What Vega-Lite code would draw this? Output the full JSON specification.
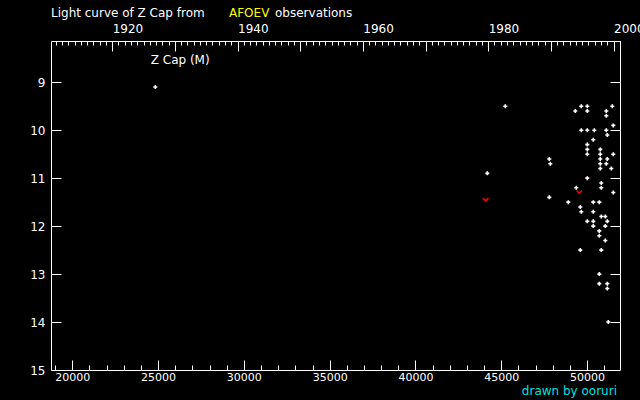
{
  "$schema": "https://vega.github.io/schema/vega-lite/v6.json",
  "autosize": "none",
  "width": 569,
  "height": 329,
  "padding": {"left": 51, "top": 41, "right": 20, "bottom": 30},
  "background": "black",
  "config": {
    "view": {"stroke": "white", "strokeWidth": 1},
    "axis": {
      "domain": false, "grid": false, "tickColor": "white", "tickWidth": 1,
      "labelColor": "white", "labelFont": "DejaVu Sans", "labelFontSize": 12,
      "labelFlush": false, "labelOverlap": false, "labelBound": false, "title": null
    },
    "text": {"font": "DejaVu Sans", "fontSize": 12}
  },
  "datasets": {
    "obs": [
      {"jd": 24838, "mag": 9.1}, {"jd": 45238, "mag": 9.5}, {"jd": 49668, "mag": 9.5}, {"jd": 50017, "mag": 9.5},
      {"jd": 51475, "mag": 9.5}, {"jd": 49318, "mag": 9.6}, {"jd": 50017, "mag": 9.6}, {"jd": 51125, "mag": 9.6},
      {"jd": 51125, "mag": 9.7}, {"jd": 51533, "mag": 9.9}, {"jd": 49668, "mag": 10.0}, {"jd": 50017, "mag": 10.0},
      {"jd": 50425, "mag": 10.0}, {"jd": 51125, "mag": 10.0}, {"jd": 51183, "mag": 10.1}, {"jd": 50367, "mag": 10.2},
      {"jd": 50017, "mag": 10.3}, {"jd": 50017, "mag": 10.4}, {"jd": 50775, "mag": 10.4}, {"jd": 50017, "mag": 10.5},
      {"jd": 50775, "mag": 10.5}, {"jd": 51533, "mag": 10.5}, {"jd": 47803, "mag": 10.6}, {"jd": 50775, "mag": 10.6},
      {"jd": 51183, "mag": 10.6}, {"jd": 47861, "mag": 10.7}, {"jd": 50775, "mag": 10.7}, {"jd": 51125, "mag": 10.7},
      {"jd": 50775, "mag": 10.8}, {"jd": 51416, "mag": 10.8}, {"jd": 44189, "mag": 10.9}, {"jd": 50017, "mag": 11.0},
      {"jd": 50833, "mag": 11.1}, {"jd": 49376, "mag": 11.2}, {"jd": 50833, "mag": 11.2}, {"jd": 51533, "mag": 11.3},
      {"jd": 47803, "mag": 11.4}, {"jd": 48910, "mag": 11.5}, {"jd": 50367, "mag": 11.5}, {"jd": 50717, "mag": 11.5},
      {"jd": 49609, "mag": 11.6}, {"jd": 49668, "mag": 11.7}, {"jd": 50367, "mag": 11.7}, {"jd": 50833, "mag": 11.8},
      {"jd": 51067, "mag": 11.8}, {"jd": 50017, "mag": 11.9}, {"jd": 50367, "mag": 11.9}, {"jd": 51183, "mag": 11.9},
      {"jd": 50367, "mag": 12.0}, {"jd": 51067, "mag": 12.0}, {"jd": 50717, "mag": 12.1}, {"jd": 50717, "mag": 12.2},
      {"jd": 51067, "mag": 12.3}, {"jd": 49609, "mag": 12.5}, {"jd": 50833, "mag": 12.5}, {"jd": 50717, "mag": 13.0},
      {"jd": 50717, "mag": 13.2}, {"jd": 51183, "mag": 13.2}, {"jd": 51183, "mag": 13.3}, {"jd": 51241, "mag": 14.0}
    ],
    "red": [
      {"jd": 44096, "mag": 11.45}, {"jd": 49551, "mag": 11.29}
    ],
    "one": [{"n": 1}]
  },
  "layer": [
    {
      "data": {"name": "obs"},
      "mark": {"type": "point", "shape": "cross", "filled": true, "color": "white", "size": 16, "opacity": 1},
      "encoding": {
        "x": {"field": "jd", "type": "quantitative",
              "scale": {"domain": [18758, 51923], "nice": false, "zero": false},
              "axis": {"orient": "bottom", "values": [20000, 25000, 30000, 35000, 40000, 45000, 50000], "format": "d",
                       "tickSize": -10, "labelPadding": 11, "labelFontSize": 11, "labelBaseline": "top", "labelAlign": "center"}},
        "y": {"field": "mag", "type": "quantitative",
              "scale": {"domain": [8.14, 15], "nice": false, "zero": false, "reverse": true},
              "axis": {"orient": "left", "values": [9, 10, 11, 12, 13, 14, 15],
                       "tickSize": -10, "labelPadding": 16, "labelAlign": "right", "labelBaseline": "middle"}}
      }
    },
    {
      "data": {"name": "red"},
      "mark": {"type": "point", "shape": "M-1,-0.6L0,0.4L1,-0.6", "filled": false, "color": "red", "strokeWidth": 1.5, "size": 30, "opacity": 1},
      "encoding": {
        "x": {"field": "jd", "type": "quantitative",
              "scale": {"domain": [18758, 51923], "nice": false, "zero": false},
              "axis": {"orient": "top", "values": [22324.5, 25977.5, 29629.5, 33282.5, 36934.5, 40587.5, 44239.5, 47892.5, 51544.5],
                       "tickSize": -10, "labelPadding": 19, "labelAlign": "left", "labelBaseline": "alphabetic",
                       "labelExpr": "round(1900 + (datum.value - 15020.5) / 365.2425) % 20 == 0 ? '' + round(1900 + (datum.value - 15020.5) / 365.2425) : ''"}},
        "y": {"field": "mag", "type": "quantitative",
              "scale": {"domain": [8.14, 15], "nice": false, "zero": false, "reverse": true},
              "axis": {"orient": "right", "values": [9, 10, 11, 12, 13, 14], "tickSize": -10, "labels": false}}
      }
    },
    {
      "data": {"name": "one"},
      "mark": {"type": "text", "color": "white", "align": "left", "baseline": "middle"},
      "encoding": {
        "text": {"value": "Light curve of Z Cap from"},
        "x": {"datum": 18758, "type": "quantitative",
              "scale": {"domain": [18758, 51923], "nice": false, "zero": false},
              "axis": {"orient": "bottom", "values": [19000, 20000, 21000, 22000, 23000, 24000, 25000, 26000, 27000, 28000, 29000, 30000, 31000, 32000, 33000, 34000, 35000, 36000, 37000, 38000, 39000, 40000, 41000, 42000, 43000, 44000, 45000, 46000, 47000, 48000, 49000, 50000, 51000],
                       "tickSize": -5, "labels": false}},
        "y": {"datum": 7.55, "type": "quantitative",
              "scale": {"domain": [8.14, 15], "nice": false, "zero": false, "reverse": true}, "axis": null}
      }
    },
    {
      "data": {"name": "one"},
      "mark": {"type": "text", "color": "#ffff00", "align": "left", "baseline": "middle"},
      "encoding": {
        "text": {"value": "AFOEV"},
        "x": {"datum": 29133, "type": "quantitative",
              "scale": {"domain": [18758, 51923], "nice": false, "zero": false},
              "axis": {"orient": "top", "values": [19037.5, 19402.5, 19768.5, 20133.5, 20498.5, 20863.5, 21229.5, 21594.5, 21959.5, 22690.5, 23055.5, 23420.5, 23785.5, 24151.5, 24516.5, 24881.5, 25246.5, 25612.5, 26342.5, 26707.5, 27073.5, 27438.5, 27803.5, 28168.5, 28534.5, 28899.5, 29264.5, 29995.5, 30360.5, 30725.5, 31090.5, 31456.5, 31821.5, 32186.5, 32551.5, 32917.5, 33647.5, 34012.5, 34378.5, 34743.5, 35108.5, 35473.5, 35839.5, 36204.5, 36569.5, 37300.5, 37665.5, 38030.5, 38395.5, 38761.5, 39126.5, 39491.5, 39856.5, 40222.5, 40952.5, 41317.5, 41683.5, 42048.5, 42413.5, 42778.5, 43144.5, 43509.5, 43874.5, 44605.5, 44970.5, 45335.5, 45700.5, 46066.5, 46431.5, 46796.5, 47161.5, 47527.5, 48257.5, 48622.5, 48988.5, 49353.5, 49718.5, 50083.5, 50449.5, 50814.5, 51179.5, 51910.5],
                       "tickSize": -4, "labels": false}},
        "y": {"datum": 7.55, "type": "quantitative",
              "scale": {"domain": [8.14, 15], "nice": false, "zero": false, "reverse": true}, "axis": null}
      }
    },
    {
      "data": {"name": "one"},
      "mark": {"type": "text", "color": "white", "align": "left", "baseline": "middle"},
      "encoding": {
        "text": {"value": "observations"},
        "x": {"datum": 31814, "type": "quantitative",
              "scale": {"domain": [18758, 51923], "nice": false, "zero": false}, "axis": null},
        "y": {"datum": 7.55, "type": "quantitative",
              "scale": {"domain": [8.14, 15], "nice": false, "zero": false, "reverse": true}, "axis": null}
      }
    },
    {
      "data": {"name": "one"},
      "mark": {"type": "text", "color": "white", "align": "left", "baseline": "middle"},
      "encoding": {
        "text": {"value": "Z Cap (M)"},
        "x": {"datum": 24570, "type": "quantitative",
              "scale": {"domain": [18758, 51923], "nice": false, "zero": false}, "axis": null},
        "y": {"datum": 8.535, "type": "quantitative",
              "scale": {"domain": [8.14, 15], "nice": false, "zero": false, "reverse": true}, "axis": null}
      }
    },
    {
      "data": {"name": "one"},
      "mark": {"type": "text", "color": "#00e0e0", "align": "right", "baseline": "middle"},
      "encoding": {
        "text": {"value": "drawn by ooruri"},
        "x": {"datum": 51748, "type": "quantitative",
              "scale": {"domain": [18758, 51923], "nice": false, "zero": false}, "axis": null},
        "y": {"datum": 15.44, "type": "quantitative",
              "scale": {"domain": [8.14, 15], "nice": false, "zero": false, "reverse": true}, "axis": null}
      }
    }
  ],
  "resolve": {"axis": {"x": "independent", "y": "independent"}}
}
